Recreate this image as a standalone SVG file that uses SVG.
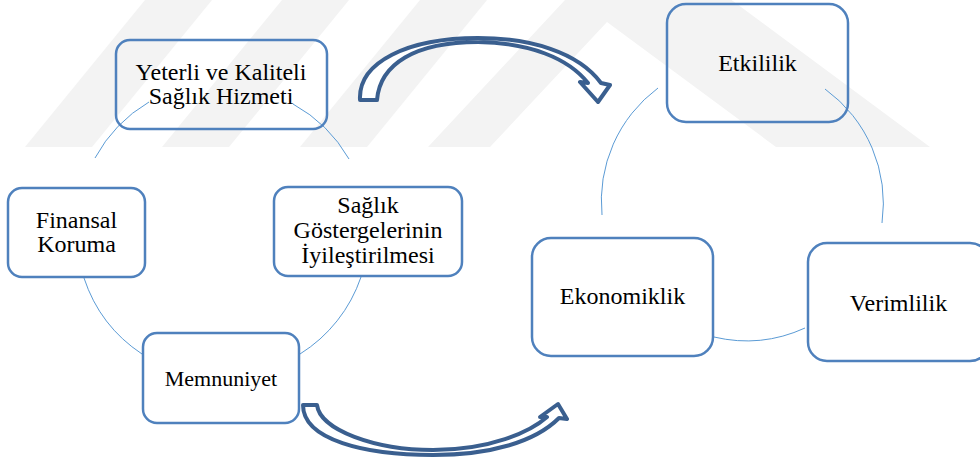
<svg xmlns="http://www.w3.org/2000/svg" width="980" height="459" viewBox="0 0 980 459">
  <style>
    .bg { fill: #ffffff; }
    .mark { fill: #f3f3f3; }
    .box { fill: none; stroke: #4f81bd; stroke-width: 2.5; }
    .ring { fill: none; stroke: #5b9bd5; stroke-width: 1; }
    .flow { fill: #ffffff; stroke: #3a5f8f; stroke-width: 4; stroke-linejoin: round; }
    text { font-family: 'Liberation Serif', 'DejaVu Serif', serif; font-size: 24px; fill: #000000; text-anchor: middle; }
  </style>

  <rect class="bg" x="0" y="0" width="980" height="459"/>

  <!-- faint background emblem: slanted bands and a chevron -->
  <g id="emblem">
    <polygon class="mark" points="25,147 92,147 212,0 145,0"/>
    <polygon class="mark" points="162,147 229,147 349,0 282,0"/>
    <polygon class="mark" points="300,147 367,147 487,0 420,0"/>
    <polygon class="mark" points="428,147 633,-73 930,147 776,147 607,22 490,147"/>
  </g>

  <!-- connectors: cycle rings and the two curved block arrows -->
  <g id="connectors">
    <g id="ring-left">
      <path class="ring" d="M149,102 A146,146 0 0 0 95,158"/>
      <path class="ring" d="M293,104 A146,146 0 0 1 349,159"/>
      <path class="ring" d="M361,277 A146,146 0 0 1 300,354"/>
      <path class="ring" d="M142,354 A146,146 0 0 1 84,278"/>
    </g>
    <g id="ring-right">
      <path class="ring" d="M658,88 A141,141 0 0 0 602,215"/>
      <path class="ring" d="M825,89 A141,141 0 0 1 882,223"/>
      <path class="ring" d="M714,337 A141,141 0 0 0 805,328"/>
    </g>
    <g id="flow-arrows">
      <path class="flow" d="M360,100 C358,62 408,38 478,38 C530,38 578,52 601,83 L610,85 L598,102 L580,82 L588,83 C568,58 530,43 478,42 C415,42 380,64 377,100 Z"/>
      <path class="flow" d="M303,405 L317,405 C320,430 375,450 433,450 C490,450 530,432 547,417 L540,417 L558,404 L567,419 L559,418 C535,442 490,455 433,455 C365,455 303,440 303,405 Z"/>
    </g>
  </g>

  <g font-family="Liberation Serif, DejaVu Serif, serif">
    <!-- left cycle -->
    <g id="n-yeterli">
      <rect class="box" x="116" y="40" width="211" height="89" rx="14"/>
      <text x="221" y="80">Yeterli ve Kaliteli</text>
      <text x="221" y="104">Sağlık Hizmeti</text>
    </g>
    <g id="n-finansal">
      <rect class="box" x="8" y="188" width="137" height="89" rx="14"/>
      <text x="76.5" y="228">Finansal</text>
      <text x="76.5" y="252">Koruma</text>
    </g>
    <g id="n-gosterge">
      <rect class="box" x="274" y="187" width="188" height="89" rx="14"/>
      <text x="368" y="213">Sağlık</text>
      <text x="368" y="238">Göstergelerinin</text>
      <text x="368" y="263">İyileştirilmesi</text>
    </g>
    <g id="n-memnuniyet">
      <rect class="box" x="143" y="333" width="156" height="90" rx="14"/>
      <text x="221" y="386" font-size="22" style="font-size:22px">Memnuniyet</text>
    </g>

    <!-- right cycle -->
    <g id="n-etkililik">
      <rect class="box" x="667" y="4" width="181" height="118" rx="19"/>
      <text x="757.5" y="71">Etkililik</text>
    </g>
    <g id="n-ekonomiklik">
      <rect class="box" x="532" y="238" width="181" height="118" rx="19"/>
      <text x="622.5" y="304">Ekonomiklik</text>
    </g>
    <g id="n-verimlilik">
      <rect class="box" x="808" y="243" width="181" height="118" rx="19"/>
      <text x="898.5" y="311">Verimlilik</text>
    </g>
  </g>
</svg>
